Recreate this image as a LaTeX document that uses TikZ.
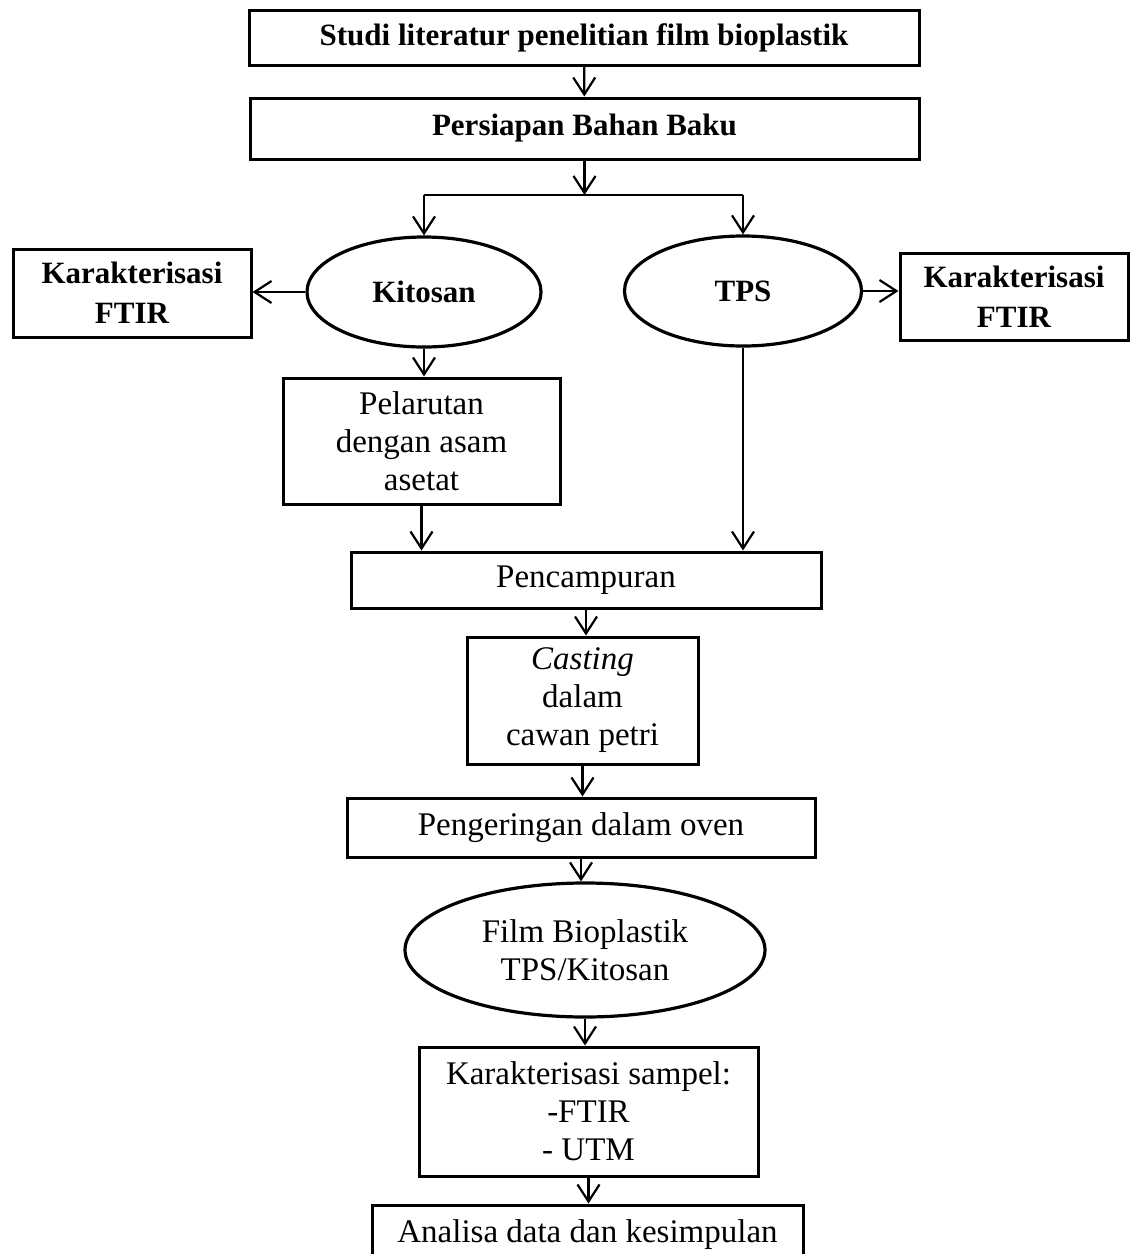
\documentclass[tikz,border=0pt]{standalone}
\usepackage{fontspec}
\setmainfont{Liberation Serif}
\usetikzlibrary{arrows.meta, positioning, shapes.geometric}

\begin{document}
\begin{tikzpicture}[x=0.5pt,y=-0.5pt,>={Straight Barb[length=8.5pt,width=11pt]},
        every node/.style={align=center, inner sep=0pt, font=\fontsize{16.5}{19}\selectfont},
        box/.style={draw, rectangle, line width=1.5pt},
        bold/.style={font=\fontsize{15.5}{20}\selectfont\bfseries},
        oval/.style={draw, ellipse, line width=1.6pt},
        flow/.style={->, line width=1.1pt}]
    \useasboundingbox (0,0) rectangle (1132,1254);

  \node[box,bold,minimum width=335pt,minimum height=27.5pt]   (studi)     at (584,37.5)    {Studi literatur penelitian film bioplastik};
  \node[box,bold,minimum width=334.5pt,minimum height=30.5pt] (persiapan) at (584.5,128.5) {Persiapan Bahan Baku};
  \node[oval,bold,minimum width=117pt,minimum height=55pt]    (kitosan)   at (424,292)     {Kitosan};
  \node[oval,bold,minimum width=118.5pt,minimum height=55pt]  (tps)       at (743,291)     {TPS};
  \node[box,bold,minimum width=119pt,minimum height=44pt]     (ftirL)     at (132,293)     {Karakterisasi\\FTIR};
  \node[box,bold,minimum width=114pt,minimum height=43.5pt]   (ftirR)     at (1014,296.5)  {Karakterisasi\\FTIR};
  \node[box,minimum width=138.5pt,minimum height=63pt]        (pelarutan) at (421.5,441)   {Pelarutan\\dengan asam\\asetat};
  \node[box,minimum width=235pt,minimum height=28pt]          (campur)    at (586,580)     {Pencampuran};
  \node[box,minimum width=115.5pt,minimum height=63.5pt]      (casting)   at (582.5,700.5) {\textit{Casting}\\dalam\\cawan petri};
  \node[box,minimum width=234pt,minimum height=29.5pt]        (oven)      at (581,827.5)   {Pengeringan dalam oven};
  \node[oval,minimum width=180pt,minimum height=67pt]         (film)      at (585,950)     {Film Bioplastik\\TPS/Kitosan};
  \node[box,minimum width=169.5pt,minimum height=64.5pt]      (sampel)    at (588.5,1111.5) {Karakterisasi sampel:\\-FTIR\\- UTM};
  \node[box,minimum width=215.5pt,minimum height=30pt]        (analisa)   at (587.5,1235)  {Analisa data dan kesimpulan};

  \coordinate (split) at (581,195);

  \draw[flow] (studi) -- (persiapan);
  \draw[flow] (persiapan.south) -- (persiapan.south |- split);
  \draw[line width=1.1pt] (kitosan |- split) -- (tps |- split);
  \draw[flow] (kitosan |- split) -- (kitosan.north);
  \draw[flow] (tps |- split) -- (tps.north);
  \draw[flow] (kitosan.west) -- (kitosan.west -| ftirL.east);
  \draw[flow] (tps.east) -- (tps.east -| ftirR.west);
  \draw[flow] (kitosan.south) -- (kitosan.south |- pelarutan.north);
  \draw[flow] (pelarutan.south) -- (pelarutan.south |- campur.north);
  \draw[flow] (tps.south) -- (tps.south |- campur.north);
  \foreach \a/\b in {campur/casting, casting/oven, oven/film, film/sampel, sampel/analisa}
    \draw[flow] (\a.south) -- (\a.south |- \b.north);
\end{tikzpicture}
\end{document}
